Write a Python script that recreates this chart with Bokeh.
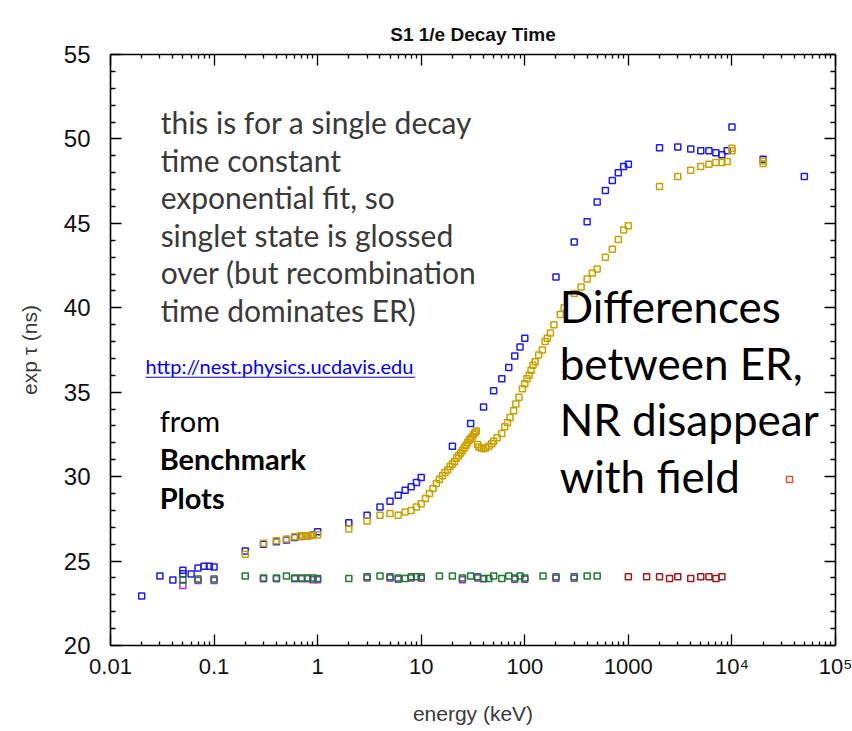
import math
from bokeh.plotting import figure
from bokeh.models import (FixedTicker, LogAxis, LinearAxis, Label, ColumnDataSource)
from bokeh.embed import file_html
from bokeh.resources import INLINE

# ---------------- data ----------------
blue_e = [0.02, 0.03, 0.04, 0.05, 0.05, 0.06, 0.07, 0.08, 0.09, 0.1,
          0.2, 0.3, 0.4, 0.5, 0.6, 0.7, 0.8, 0.9, 1.0,
          2, 3, 4, 5, 6, 7, 8, 9, 10,
          20, 30, 40, 50, 60, 70, 80, 90, 100,
          200, 300, 400, 500, 600, 700, 800, 900, 1000,
          2000, 3000, 4000, 5000, 6000, 7000, 8000, 9000, 10000,
          20000, 50000]
blue_tau = [22.93, 24.11, 23.88, 24.45, 24.25, 24.23, 24.59, 24.7, 24.7, 24.65,
            25.59, 26.0, 26.15, 26.25, 26.4, 26.45, 26.5, 26.55, 26.73,
            27.27, 27.72, 28.2, 28.55, 28.9, 29.2, 29.4, 29.65, 29.95,
            31.8, 33.15, 34.13, 35.08, 35.8, 36.46, 37.15, 37.68, 38.2,
            41.82, 43.9, 45.1, 46.26, 46.95, 47.54, 48.0, 48.37, 48.5,
            49.48, 49.52, 49.4, 49.3, 49.3, 49.18, 49.06, 49.3, 50.7,
            48.8, 47.78]

gold_e = [0.2, 0.3, 0.4, 0.5, 0.6, 0.68, 0.72, 0.76, 0.8, 0.85, 0.9, 1.0,
          2, 3, 4, 5, 6, 7, 8, 9, 10, 11, 12, 13, 14, 15,
          16, 17, 18, 19, 20, 21, 22, 23, 24, 25, 26, 27, 28, 29, 30,
          31, 32, 33, 34, 35, 36, 38, 40, 42, 45, 48, 50, 54, 60, 64, 68,
          72, 78, 82, 88, 95, 100, 105, 110, 115, 120, 126, 136, 148, 157,
          165, 177, 191, 220, 240, 300, 350, 400, 450, 500, 600, 700, 800,
          900, 1000, 2000, 3000, 4000, 5000, 6000, 7000, 8000, 9000, 10000,
          10000, 20000, 20000]
gold_tau = [25.4, 26.05, 26.2, 26.3, 26.44, 26.48, 26.5, 26.5, 26.5, 26.52, 26.52, 26.56,
            26.9, 27.37, 27.72, 27.82, 27.72, 27.9, 28.0, 28.2, 28.4, 28.7, 29.0, 29.3, 29.6, 29.85,
            30.05, 30.25, 30.4, 30.6, 30.75, 30.9, 31.1, 31.25, 31.4, 31.55, 31.7, 31.85, 32.0, 32.15, 32.25,
            32.35, 32.5, 32.6, 32.7, 31.9, 31.75, 31.7, 31.65, 31.7, 31.8, 31.95, 32.1, 32.3, 32.55, 32.95, 33.2,
            33.5, 33.9, 34.3, 34.7, 35.2, 35.5, 35.8, 36.0, 36.3, 36.6, 36.8, 37.2, 37.5, 38.0,
            38.2, 38.5, 39.0, 39.6, 40.0, 40.84, 41.23, 41.7, 42.06, 42.3, 43.0, 43.46, 44.04,
            44.6, 44.86, 47.19, 47.78, 48.14, 48.37, 48.5, 48.6, 48.6, 48.67, 49.3,
            49.45, 48.55, 48.7]

green_e = [0.05, 0.07, 0.1, 0.2, 0.3, 0.4, 0.5, 0.6, 0.7, 0.8, 0.9, 1, 2, 3, 4, 5, 6, 7, 8, 9, 10,
           15, 20, 25, 30, 35, 40, 45, 50, 60, 70, 80, 90, 100, 150, 200, 300, 400, 500]
green_tau = [23.88, 23.94, 23.94, 24.11, 24.0, 24.0, 24.11, 24.0, 24.0, 24.0, 24.0, 23.97, 23.97,
             24.07, 24.11, 24.07, 24.0, 23.97, 24.07, 24.07, 24.07,
             24.11, 24.11, 24.0, 24.11, 24.07, 23.97, 23.97, 24.11, 23.97, 24.11, 24.0, 24.11, 24.0,
             24.11, 24.07, 24.07, 24.11, 24.11]

purple_e = [0.05, 0.07, 0.1, 0.3, 0.4, 0.6, 0.7, 0.8, 0.9, 1, 3, 5, 6, 8, 10, 25, 35, 40, 80, 100, 200, 300]
purple_tau = [23.55, 23.85, 23.85, 23.95, 23.95, 23.95, 23.95, 23.95, 23.9, 23.9, 24.0, 24.0, 23.92,
              24.0, 23.98, 23.9, 24.0, 23.95, 23.93, 23.93, 23.98, 23.98]

red_e = [1000, 1500, 2000, 2500, 3000, 4000, 5000, 6000, 7000, 8000]
red_tau = [24.07, 24.07, 24.07, 23.97, 24.07, 23.97, 24.07, 24.07, 23.97, 24.07]

orange_e = [36000]
orange_tau = [29.83]

x_ticks = [0.01, 0.1, 1, 10, 100, 1000, 10000, 100000]
x_tick_labels = ["0.01", "0.1", "1", "10", "100", "1000", "10\u2074", "10\u2075"]
y_ticks = [20, 25, 30, 35, 40, 45, 50, 55]

SANS = "Liberation Sans"

# ---------------- figure ----------------
p = figure(width=852, height=731, x_axis_type="log",
           x_range=(0.01, 100000), y_range=(20, 55),
           output_backend="svg", toolbar_location=None,
           min_border_left=110, min_border_right=17,
           min_border_top=54, min_border_bottom=86)
p.grid.visible = False
p.outline_line_color = None
p.background_fill_color = "white"

p.title.text = "S1 1/e Decay Time"
p.title.align = "center"
p.title.text_font = SANS
p.title.text_font_size = "19px"
p.title.text_font_style = "bold"
p.title.text_color = "#111111"
p.title.standoff = 20

minor_x = [m * 10.0 ** d for d in range(-2, 5) for m in range(2, 10)]
minor_y = [v for v in range(21, 55) if v % 5 != 0]
xt = FixedTicker(ticks=x_ticks, minor_ticks=minor_x)
yt = FixedTicker(ticks=y_ticks, minor_ticks=minor_y)


def style_axis(ax, show_labels):
    ax.axis_line_color = "black"
    ax.axis_line_width = 1.6
    ax.major_tick_line_color = "black"
    ax.minor_tick_line_color = "black"
    ax.major_tick_line_width = 1.3
    ax.minor_tick_line_width = 1.3
    ax.major_tick_in = 11
    ax.major_tick_out = 0
    ax.minor_tick_in = 5
    ax.minor_tick_out = 0
    if not show_labels:
        ax.major_label_text_font_size = "1px"
        ax.major_label_text_alpha = 0
        ax.major_label_standoff = 0
    else:
        ax.major_label_text_font = SANS
        ax.major_label_text_font_size = "24px"
        ax.major_label_text_color = "#111111"
        ax.axis_label_text_font = SANS
        ax.axis_label_text_font_size = "21px"
        ax.axis_label_text_font_style = "normal"
        ax.axis_label_text_color = "#3a3a3a"


xa = p.xaxis[0]
xa.ticker = xt
xa.major_label_overrides = {t: s for t, s in zip(x_ticks, x_tick_labels)}
xa.axis_label = "energy (keV)"
style_axis(xa, True)
xa.major_label_text_font_size = "22px"
xa.minor_tick_in = 4
xa.major_label_standoff = 8
xa.axis_label_standoff = 20

ya = p.yaxis[0]
ya.ticker = yt
ya.axis_label = "exp \u03c4 (ns)"
style_axis(ya, True)
ya.major_label_standoff = 20
ya.axis_label_standoff = 20

top = LogAxis(ticker=xt)
style_axis(top, False)
top.minor_tick_in = 4
top.major_label_standoff = 16   # empty room that lifts the title
p.add_layout(top, "above")
right = LinearAxis(ticker=yt)
style_axis(right, False)
p.add_layout(right, "right")

# ---------------- markers ----------------
def pts(xs, ys, color):
    src = ColumnDataSource(dict(x=xs, y=ys))
    p.scatter("x", "y", source=src, marker="square", size=6,
              line_color=color, line_width=1.5, fill_color=None)

pts(blue_e, blue_tau, "#1c1cf0")
pts(gold_e, gold_tau, "#c9a100")
pts(purple_e, purple_tau, "#a030d8")
pts(green_e, green_tau, "#1e7a2e")
pts(red_e, red_tau, "#9e1a1a")
pts(orange_e, orange_tau, "#e6502a")

# ---------------- annotations ----------------
def dx(px):
    return 10 ** ((px - 110) / 103.3 - 2)

def dy(py):
    return 55 - (py - 54) / 16.9

def note(px, py, txt, size, color="black", style="normal", font="Lato"):
    # py is the wanted baseline; Bokeh draws the text about 0.38 em lower
    py = py - 0.38 * size
    p.add_layout(Label(x=dx(px), y=dy(py), text=txt, text_font=font,
                       text_font_size=f"{size}px", text_color=color,
                       text_font_style=style, text_baseline="alphabetic"))

block = ["this is for a single decay", "time constant", "exponential fit, so",
         "singlet state is glossed", "over (but recombination", "time dominates ER)"]
for i, line in enumerate(block):
    note(160, 133 + i * 37.6, line, 30, color="#3a3a3a")

note(145, 373, "http://nest.physics.ucdavis.edu", 20, color="#0000ee")
p.segment(x0=[dx(145)], y0=[dy(377)], x1=[dx(414)], y1=[dy(377)],
          line_color="#0000ee", line_width=1.2)

note(159, 431, "from", 29)
note(159, 469, "Benchmark", 29, style="bold")
note(159, 508, "Plots", 29, style="bold")

for i, line in enumerate(["Differences", "between ER,", "NR disappear", "with field"]):
    note(558, 322 + i * 57, line, 44)

open("out.html", "w").write(file_html(p, INLINE))
